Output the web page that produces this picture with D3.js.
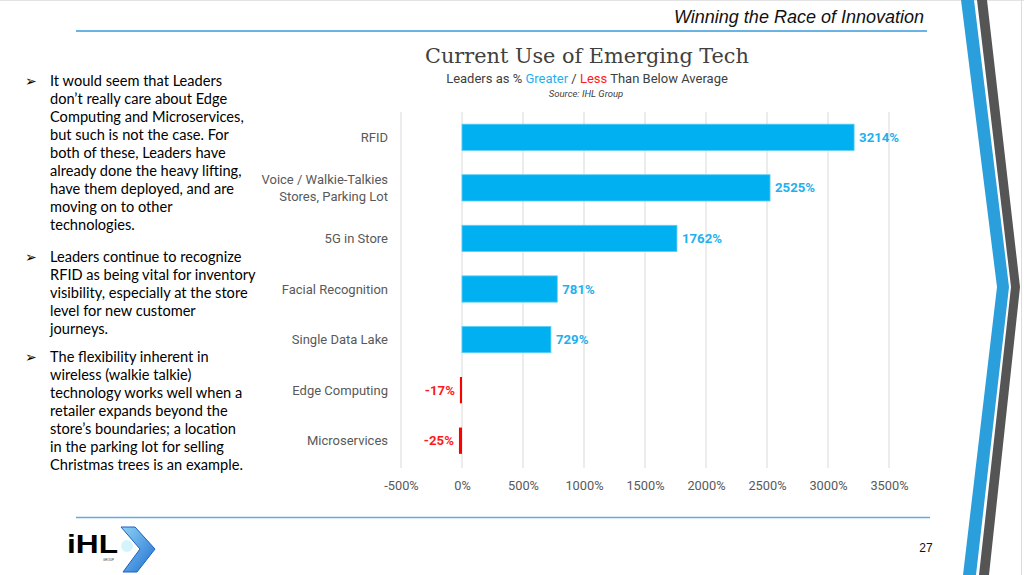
<!DOCTYPE html>
<html>
<head>
<meta charset="utf-8">
<script src="https://cdn.jsdelivr.net/npm/d3@7"></script>
<style>
  html, body { margin: 0; padding: 0; background: #fff; }
  svg { display: block; }
</style>
</head>
<body>
<svg id="chart" width="1024" height="575"></svg>
<script>
const categories = ["RFID", "Voice / Walkie-Talkies\nStores, Parking Lot", "5G in Store", "Facial Recognition", "Single Data Lake", "Edge Computing", "Microservices"];
const values = [3214, 2525, 1762, 781, 729, -17, -25];
const tickValues = [-500, 0, 500, 1000, 1500, 2000, 2500, 3000, 3500];
const headerText = "Winning the Race of Innovation";
const chartTitle = "Current Use of Emerging Tech";
const sourceText = "Source: IHL Group";
const bullets = [
  ["It would seem that Leaders", "don\u2019t really care about Edge", "Computing and Microservices,", "but such is not the case. For", "both of these, Leaders have", "already done the heavy lifting,", "have them deployed, and are", "moving on to other", "technologies."],
  ["Leaders continue to recognize", "RFID as being vital for inventory", "visibility, especially at the store", "level for new customer", "journeys."],
  ["The flexibility inherent in", "wireless (walkie talkie)", "technology works well when a", "retailer expands beyond the", "store\u2019s boundaries; a location", "in the parking lot for selling", "Christmas trees is an example."]
];
const pageNumber = "27";

const svg = d3.select("#chart");
svg.append("rect").attr("width", 1024).attr("height", 575).attr("fill", "#fff");
svg.append("line").attr("x1", 0).attr("x2", 1024).attr("y1", 0.5).attr("y2", 0.5).attr("stroke", "#e3e3e3");
svg.append("line").attr("x1", 1021.5).attr("x2", 1021.5).attr("y1", 0).attr("y2", 575).attr("stroke", "#dcdcdc");

// Header
svg.append("text").attr("x", 924).attr("y", 23).attr("text-anchor", "end")
  .attr("font-family", "Liberation Sans, Arial, sans-serif").attr("font-style", "italic")
  .attr("font-size", 18).attr("fill", "#111").text(headerText);
svg.append("line").attr("x1", 76).attr("x2", 927).attr("y1", 31).attr("y2", 31)
  .attr("stroke", "#3a9ad9").attr("stroke-width", 1.5);

// Right chevron stripes
svg.append("polygon").attr("points", "961,0 974,0 1009,287 976,575 963,575 997,287").attr("fill", "#2b9fdc");
svg.append("polygon").attr("points", "977,0 987,0 1020,287 989,575 979,575 1011,287").attr("fill", "#555555");

// Left bullets
const bulletG = svg.append("g").attr("font-family", "Lato, sans-serif").attr("font-size", 14.6).attr("fill", "#000");
const starts = [86, 262, 362];
bullets.forEach((lines, i) => {
  bulletG.append("text").attr("x", 25).attr("y", starts[i]).attr("font-family", "DejaVu Sans, sans-serif").attr("font-size", 14).text("\u27A2");
  lines.forEach((ln, j) => {
    bulletG.append("text").attr("x", 50).attr("y", starts[i] + j * 18).text(ln);
  });
});

// Titles
svg.append("text").attr("x", 587).attr("y", 63).attr("text-anchor", "middle")
  .attr("font-family", "DejaVu Serif, serif").attr("font-size", 20.8).attr("fill", "#404040").text(chartTitle);
const sub = svg.append("text").attr("x", 587).attr("y", 83).attr("text-anchor", "middle")
  .attr("font-family", "Roboto, sans-serif").attr("font-size", 13).attr("fill", "#404040");
sub.append("tspan").text("Leaders as % ");
sub.append("tspan").attr("fill", "#1fb0ee").text("Greater");
sub.append("tspan").text(" / ");
sub.append("tspan").attr("fill", "#ff1a1a").text("Less");
sub.append("tspan").text(" Than Below Average");
svg.append("text").attr("x", 586).attr("y", 97).attr("text-anchor", "middle")
  .attr("font-family", "Roboto, sans-serif").attr("font-style", "italic").attr("font-size", 9.5).attr("fill", "#404040").text(sourceText);

// Chart
const x = d3.scaleLinear().domain([-500, 3500]).range([401, 889]);
const y = d3.scaleBand().domain(categories).range([112, 466]).paddingInner(0.48).paddingOuter(0.24);

const grid = svg.append("g");
grid.selectAll("line").data(tickValues).join("line")
  .attr("x1", d => x(d)).attr("x2", d => x(d)).attr("y1", 112).attr("y2", 468)
  .attr("stroke", "#d9d9d9").attr("stroke-width", 1);

const xAxis = svg.append("g").attr("transform", "translate(0,468)")
  .call(d3.axisBottom(x).tickValues(tickValues).tickSize(0).tickPadding(13).tickFormat(d => d + "%"));
xAxis.select(".domain").remove();
xAxis.selectAll("text").attr("font-family", "Roboto, sans-serif").attr("font-size", 12.8).attr("fill", "#595959");

const data = categories.map((c, i) => ({ c, v: values[i] }));
svg.append("g").selectAll("rect").data(data).join("rect")
  .attr("x", d => x(Math.min(0, d.v)))
  .attr("width", d => Math.max(1.5, Math.abs(x(d.v) - x(0))))
  .attr("y", d => y(d.c)).attr("height", y.bandwidth())
  .attr("fill", d => d.v >= 0 ? "#00b0f0" : "#ff0000")
  .attr("stroke", d => d.v >= 0 ? "#5fd0f7" : "none").attr("stroke-width", 0.8);

svg.append("g").selectAll("text").data(data).join("text")
  .attr("x", d => d.v >= 0 ? x(d.v) + 5 : x(d.v) - 5)
  .attr("y", d => y(d.c) + y.bandwidth() / 2)
  .attr("dy", "0.35em")
  .attr("text-anchor", d => d.v >= 0 ? "start" : "end")
  .attr("font-family", "Roboto, sans-serif").attr("font-weight", "bold").attr("font-size", 13.2)
  .attr("fill", d => d.v >= 0 ? "#1fb0ee" : "#ff1a1a")
  .text(d => d.v + "%");

const catG = svg.append("g").attr("font-family", "Roboto, sans-serif").attr("font-size", 13).attr("fill", "#595959");
data.forEach(d => {
  const lines = d.c.split("\n");
  const cy = y(d.c) + y.bandwidth() / 2;
  const t = catG.append("text").attr("text-anchor", "end");
  lines.forEach((ln, k) => {
    t.append("tspan").attr("x", 388)
      .attr("y", cy + (k - (lines.length - 1) / 2) * 16.5)
      .attr("dy", "0.35em").text(ln);
  });
});

// Footer
svg.append("line").attr("x1", 76).attr("x2", 930).attr("y1", 517.5).attr("y2", 517.5)
  .attr("stroke", "#5dade2").attr("stroke-width", 1.5);
svg.append("text").attr("x", 926).attr("y", 552).attr("text-anchor", "middle")
  .attr("font-family", "Liberation Sans, Arial, sans-serif").attr("font-size", 12).attr("fill", "#111").text(pageNumber);

// Logo
const logo = svg.append("g");
const grad = svg.append("defs").append("linearGradient").attr("id", "lg").attr("x1", 0).attr("y1", 0).attr("x2", 1).attr("y2", 1);
grad.append("stop").attr("offset", "0%").attr("stop-color", "#8fd3f5");
grad.append("stop").attr("offset", "100%").attr("stop-color", "#1f6fd1");
logo.append("polygon").attr("points", "121,527 135,527 155,549 137,572 123,572 140,549").attr("fill", "url(#lg)").attr("stroke", "#1d5fc4").attr("stroke-width", 1);
logo.append("circle").attr("cx", 127).attr("cy", 546).attr("r", 6).attr("fill", "#c9f1fb").attr("opacity", 0.8);
logo.append("text").attr("x", 67).attr("y", 553).attr("font-family", "Liberation Sans, Arial, sans-serif")
  .attr("font-weight", "bold").attr("font-size", 26).attr("textLength", 51).attr("lengthAdjust", "spacingAndGlyphs")
  .attr("fill", "#000").text("iHL");
logo.append("text").attr("x", 103).attr("y", 561).attr("font-family", "Liberation Sans, Arial, sans-serif")
  .attr("font-size", 3).attr("fill", "#333").text("GROUP");
</script>
</body>
</html>
